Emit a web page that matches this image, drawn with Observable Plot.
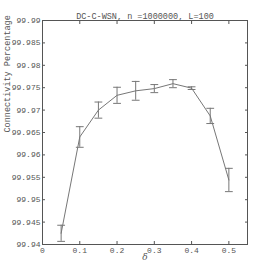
<!DOCTYPE html>
<html>
<head>
<meta charset="utf-8">
<script src="https://cdn.jsdelivr.net/npm/d3@7"></script>
<script src="https://cdn.jsdelivr.net/npm/@observablehq/plot@0.6"></script>
<style>
  html, body { margin: 0; padding: 0; background: #fff; }
  #chart svg { display: block; }
</style>
</head>
<body>
<div id="chart"></div>
<script>
const title = "DC-C-WSN, n =1000000, L=100";
const xLabel = "δ";
const yLabel = "Connectivity Percentage";
const delta = [0.05, 0.1, 0.15, 0.2, 0.25, 0.3, 0.35, 0.4, 0.45, 0.5];
const meanPct = [99.9425, 99.964, 99.970, 99.9733, 99.9743, 99.9748, 99.9759, 99.9749, 99.9687, 99.9544];
const errPct = [0.0018, 0.0023, 0.0018, 0.0018, 0.0021, 0.0009, 0.0009, 0.0003, 0.0017, 0.0026];
const xTicks = [0, 0.1, 0.2, 0.3, 0.4, 0.5];
const yTicks = [99.94, 99.945, 99.95, 99.955, 99.96, 99.965, 99.97, 99.975, 99.98, 99.985, 99.99];

const data = delta.map((d, i) => ({x: d, y: meanPct[i], lo: meanPct[i] - errPct[i], hi: meanPct[i] + errPct[i]}));

const cap = { draw(ctx, size) { const w = Math.sqrt(size); ctx.moveTo(-w, 0); ctx.lineTo(w, 0); } };
const ink = "#555";
const font = "Liberation Mono, DejaVu Sans Mono, monospace";

const plot = Plot.plot({
  width: 273,
  height: 275,
  marginLeft: 42,
  marginRight: 26,
  marginTop: 20,
  marginBottom: 31,
  style: { fontFamily: font, fontSize: "8px", color: ink, background: "#fff" },
  x: { domain: [0, 0.55] },
  y: { domain: [99.94, 99.99] },
  marks: [
    Plot.frame({ stroke: ink }),
    Plot.axisX({ anchor: "bottom", ticks: xTicks, tickSize: -3, tickPadding: 6, label: null, tickFormat: d => String(d), stroke: ink, fill: ink }),
    Plot.axisX({ anchor: "top", ticks: xTicks, tickSize: -3, label: null, tickFormat: () => "", stroke: ink }),
    Plot.axisY({ anchor: "left", ticks: yTicks, tickSize: -3, tickPadding: 5, label: null, tickFormat: d => String(+d.toFixed(3)), stroke: ink, fill: ink }),
    Plot.axisY({ anchor: "right", ticks: yTicks, tickSize: -3, label: null, tickFormat: () => "", stroke: ink }),
    Plot.line(data, { x: "x", y: "y", stroke: "#777", strokeWidth: 1 }),
    Plot.ruleX(data, { x: "x", y1: "lo", y2: "hi", stroke: "#777", strokeWidth: 1 }),
    Plot.dot(data, { x: "x", y: "lo", symbol: cap, r: 2.2, stroke: "#777", fill: "none", strokeWidth: 1 }),
    Plot.dot(data, { x: "x", y: "hi", symbol: cap, r: 2.2, stroke: "#777", fill: "none", strokeWidth: 1 }),
    Plot.text([title], { frameAnchor: "top", dy: -8, text: d => d, fontSize: 8.5, fill: ink }),
    Plot.text([xLabel], { frameAnchor: "bottom", dy: 15, text: d => d, fontSize: 9, fontStyle: "italic", fontFamily: "DejaVu Serif, serif", fill: ink }),
    Plot.text([yLabel], { frameAnchor: "left", dx: -35, rotate: -90, text: d => d, fontSize: 8.5, fill: ink })
  ]
});
document.getElementById("chart").appendChild(plot);
</script>
</body>
</html>
